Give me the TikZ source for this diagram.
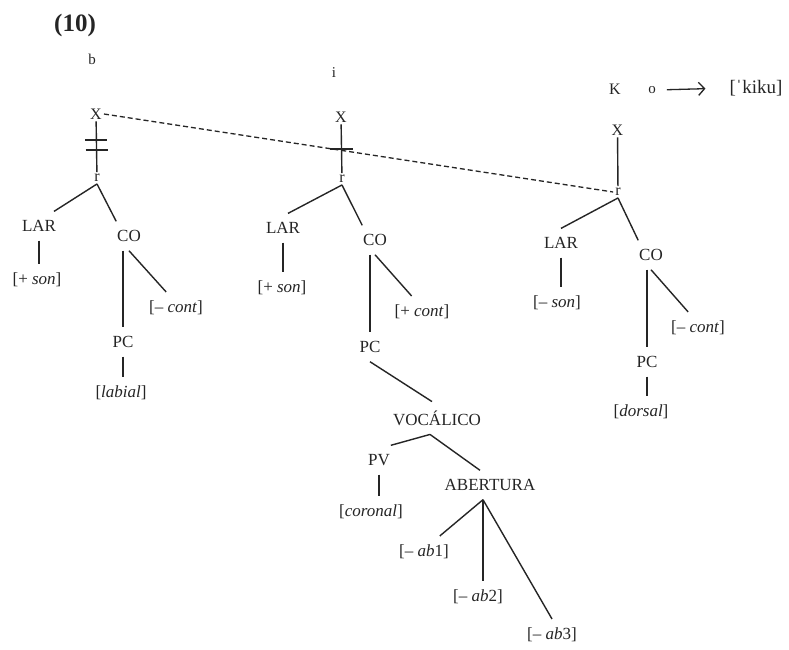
\documentclass[tikz,border=0pt]{standalone}
\usepackage{fontspec}
\setmainfont{Liberation Serif}
\usetikzlibrary{arrows.meta,calc}
\definecolor{ink}{HTML}{252525}
\tikzset{
  lab/.style={inner xsep=0pt, inner ysep=4pt, outer xsep=1pt, outer ysep=5pt, text=ink,
    font=\fontsize{17}{20}\selectfont},
  feat/.style={lab},
  small/.style={inner sep=2pt, text=ink, font=\fontsize{16}{18}\selectfont},
  tiny/.style={inner sep=1pt, text=ink, font=\fontsize{15}{17}\selectfont},
  br/.style={draw=ink, line width=1.4pt},
  strike/.style={draw=ink, line width=1.8pt},
  assoc/.style={draw=ink, line width=1.3pt, dash pattern=on 5pt off 3pt},
  arr/.style={draw=ink, line width=1.3pt, -{Straight Barb[length=6pt,width=13pt]}},
}
\begin{document}
\begin{tikzpicture}[x=1pt,y=-1pt]
\useasboundingbox[fill=white] (0,0) rectangle (789,649);
% headings
\node[text=ink, font=\fontsize{25}{28}\selectfont\bfseries, inner sep=0pt] (num) at (75,25) {(10)};
\node[tiny] (sb) at (92,59) {b};
\node[tiny] (si) at (334,73) {i};
\node[small] (sK) at (615,89) {K};
\node[tiny] (so) at (652,90) {o};
\node[inner sep=0pt, text=ink, font=\fontsize{19}{22}\selectfont] (kiku) at (756,88) {[ˈkiku]};
\draw[arr, shorten <=10pt, shorten >=24pt] (so.east) -- (kiku.west);
% skeleton
\node[small] (x1) at (96,114) {X};
\node[small] (x2) at (341,117) {X};
\node[small] (x3) at (617.5,130) {X};
\node[small] (r1) at (97,178) {r};
\node[small] (r2) at (342,179) {r};
\node[small] (r3) at (618,192) {r};
\draw[br] (x1) -- (r1);
\draw[br] (x2) -- (r2);
\draw[br] (x3) -- (r3);
\path (x1.center) -- (r1.center) coordinate[pos=0.41] (s1a) coordinate[pos=0.56] (s1b);
\path (x2.center) -- (r2.center) coordinate[pos=0.52] (s2a);
\draw[strike] ([xshift=-11pt]s1a) -- ([xshift=11pt]s1a);
\draw[strike] ([xshift=-11pt]s1b) -- ([xshift=11pt]s1b);
\draw[strike] ([xshift=-12pt]s2a) -- ([xshift=11pt]s2a);
\draw[assoc] (x1.east) -- (r3.west);
% left tree
\node[lab] (lar1) at (39,226) {LAR};
\node[feat] (son1) at (37,280) {[+ \textit{son}]};
\node[lab] (co1) at (129,236) {CO};
\node[feat] (cont1) at (176,308) {[– \textit{cont}]};
\node[lab] (pc1) at (123,342) {PC};
\node[feat] (lab1) at (121,393) {[\textit{labial}]};
\draw[br] (r1.south) -- ([xshift=-3pt]lar1.north east);
\draw[br] (r1.south) -- (co1.north west);
\draw[br] (lar1.south) -- (lar1.south |- son1.north);
\draw[br] (pc1.north |- co1.south) -- (pc1.north);
\draw[br] (co1.south) -- ([xshift=18pt]cont1.north west);
\draw[br] (pc1.south) -- (pc1.south |- lab1.north);
% middle tree
\node[lab] (lar2) at (283,228) {LAR};
\node[feat] (son2) at (282,288) {[+ \textit{son}]};
\node[lab] (co2) at (375,240) {CO};
\node[feat] (cont2) at (422,312) {[+ \textit{cont}]};
\node[lab] (pc2) at (370,347) {PC};
\node[lab] (voc) at (437,418) {VOCÁLICO};
\node[lab] (pv) at (379,460) {PV};
\node[feat] (cor) at (371,512) {[\textit{coronal}]};
\node[lab] (abe) at (490,485) {ABERTURA};
\node[feat] (ab1) at (424,552) {[– \textit{ab}1]};
\node[feat] (ab2) at (478,597) {[– \textit{ab}2]};
\node[feat] (ab3) at (552,635) {[– \textit{ab}3]};
\draw[br] (r2.south) -- ([xshift=5pt]lar2.north);
\draw[br] (r2.south) -- (co2.north west);
\draw[br] (lar2.south) -- (lar2.south |- son2.north);
\draw[br] (pc2.north |- co2.south) -- (pc2.north);
\draw[br] (co2.south) -- ([xshift=18pt]cont2.north west);
\draw[br] (pc2.south) -- ([xshift=-5pt]voc.north);
\draw[br] ([xshift=-7pt]voc.south) -- (pv.north east);
\draw[br] ([xshift=-7pt]voc.south) -- ([xshift=-10pt]abe.north);
\draw[br] (pv.south) -- (pv.south |- cor.north);
\coordinate (abs) at ([xshift=-7pt]abe.south);
\draw[br] (abs) -- ([xshift=-10pt]ab1.north east);
\draw[br] (abs) -- (abs |- ab2.north);
\draw[br] (abs) -- (ab3.north);
% right tree
\node[lab] (lar3) at (561,243) {LAR};
\node[feat] (son3) at (557,303) {[– \textit{son}]};
\node[lab] (co3) at (651,255) {CO};
\node[feat] (cont3) at (698,328) {[– \textit{cont}]};
\node[lab] (pc3) at (647,362) {PC};
\node[feat] (dor) at (641,412) {[\textit{dorsal}]};
\draw[br] (r3.south) -- (lar3.north);
\draw[br] (r3.south) -- (co3.north west);
\draw[br] (lar3.south) -- (lar3.south |- son3.north);
\draw[br] (pc3.north |- co3.south) -- (pc3.north);
\draw[br] (co3.south) -- ([xshift=18pt]cont3.north west);
\draw[br] (pc3.south) -- (pc3.south |- dor.north);
\end{tikzpicture}
\end{document}
